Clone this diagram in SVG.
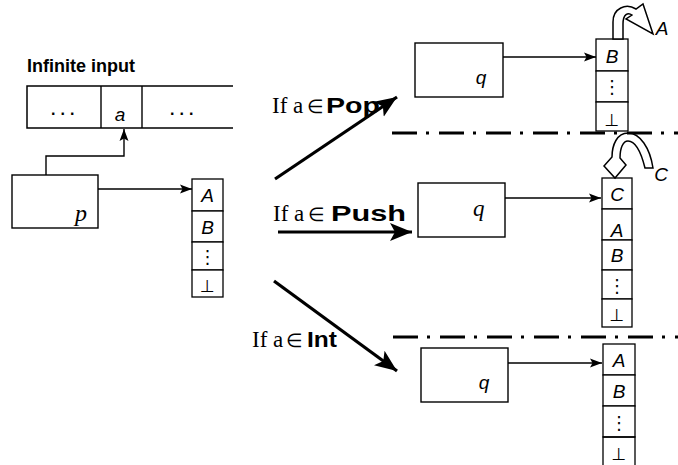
<svg xmlns="http://www.w3.org/2000/svg" width="678" height="465" viewBox="0 0 678 465">
<defs>
<marker id="thin" markerUnits="userSpaceOnUse" markerWidth="14" markerHeight="12" refX="12" refY="6" orient="auto">
<path d="M0,1.5 L12,6 L0,10.5 L2.5,6 Z" fill="#000"/>
</marker>
<marker id="thick" markerUnits="userSpaceOnUse" markerWidth="24" markerHeight="20" refX="22" refY="10" orient="auto">
<path d="M0,1 L22,10 L0,19 L5,10 Z" fill="#000"/>
</marker>
<style>
text{fill:#000}
.box{fill:#fff;stroke:#000;stroke-width:1.4}
.cell{fill:#fff;stroke:#000;stroke-width:1.3}
.thin{fill:none;stroke:#000;stroke-width:1.4;marker-end:url(#thin)}
.thick{fill:none;stroke:#000;stroke-width:3.2;marker-end:url(#thick)}
.dashdot{fill:none;stroke:#000;stroke-width:3;stroke-dasharray:25 9 3 10}
.sym{font-family:"Liberation Sans",Arial,sans-serif;font-style:italic;font-size:19px;text-anchor:middle}
.dots{font-family:"DejaVu Sans",sans-serif;font-size:18px;text-anchor:middle}
.bot{font-family:"DejaVu Sans",sans-serif;font-size:17px;text-anchor:middle}
.ser{font-family:"Liberation Serif","Times New Roman",serif;font-size:23px}
.bold{font-family:"Liberation Sans",Arial,sans-serif;font-weight:bold;font-size:22px}
.elem{font-family:"DejaVu Sans",sans-serif;font-size:19px}
.curve{fill:#fff;stroke:#000;stroke-width:1.5;stroke-linejoin:miter}
.ell{font-family:"Liberation Sans",Arial,sans-serif;font-weight:bold;font-size:16px;letter-spacing:5px}
</style>
</defs>

<g id="title">
<text x="27" y="72" font-family="Liberation Sans, Arial, sans-serif" font-weight="bold" font-size="18">Infinite input</text>
</g>

<g id="tape">
<path d="M233,86 H27 V128 H233" fill="none" stroke="#000" stroke-width="1.5"/>
<line x1="101" y1="86" x2="101" y2="128" stroke="#000" stroke-width="1.4"/>
<line x1="142" y1="86" x2="142" y2="128" stroke="#000" stroke-width="1.4"/>
<text x="51" y="115" class="ell">...</text>
<text x="120" y="121" class="sym" font-size="22">a</text>
<text x="170" y="115" class="ell">...</text>
</g>

<g id="p-state">
<rect class="box" x="12" y="175" width="86" height="53"/>
<text x="75" y="221" font-family="Liberation Serif, serif" font-style="italic" font-size="24">p</text>
</g>

<g id="p-stack">
<rect class="cell" x="192" y="179" width="31" height="32"/>
<rect class="cell" x="192" y="211" width="31" height="31"/>
<rect class="cell" x="192" y="242" width="31" height="28"/>
<rect class="cell" x="192" y="270" width="31" height="27"/>
<text class="sym" x="207.5" y="202">A</text>
<text class="sym" x="207.5" y="234">B</text>
<text class="dots" x="207.5" y="263">⋮</text>
<text class="bot" x="207.5" y="292">⊥</text>
</g>

<g id="q-pop">
<rect class="box" x="415" y="43" width="88" height="54"/>
<text class="sym" x="481" y="84" font-size="22">q</text>
</g>

<g id="stack-pop">
<rect class="cell" x="596" y="39" width="32" height="32"/>
<rect class="cell" x="596" y="71" width="32" height="31"/>
<rect class="cell" x="596" y="102" width="32" height="29"/>
<text class="sym" x="612" y="63">B</text>
<text class="dots" x="612" y="93">⋮</text>
<text class="bot" x="612" y="126">⊥</text>
<path class="curve" d="M613,39 L613,22 C613,8 626,3 636,9 L643,4 L653,34 L626,19 L632,15 C628,12 623,14 623,24 L623,39 Z"/>
<text class="sym" x="662" y="35" font-size="18">A</text>
</g>

<g id="q-push">
<rect class="box" x="418" y="183" width="87" height="54"/>
<text x="473" y="216" font-family="Liberation Serif, serif" font-style="italic" font-size="23">q</text>
</g>

<g id="stack-push">
<rect class="cell" x="602" y="178" width="30" height="31"/>
<rect class="cell" x="602" y="209" width="30" height="31"/>
<rect class="cell" x="602" y="240" width="30" height="30"/>
<rect class="cell" x="602" y="270" width="30" height="29"/>
<rect class="cell" x="602" y="299" width="30" height="28"/>
<text class="sym" x="617" y="201">C</text>
<text class="sym" x="617" y="237">A</text>
<text class="sym" x="617" y="262">B</text>
<text class="dots" x="617" y="292">⋮</text>
<text class="bot" x="617" y="321">⊥</text>
<path class="curve" d="M653,168 C650,148 640,133 628,133 C617,133 612,145 612,157 L604,166 L615,178 L626,165 L620,158 C620,148 623,141 628,141 C636,141 641,152 645,168 Z"/>
<text class="sym" x="661" y="181" font-size="18">C</text>
</g>

<g id="q-int">
<rect class="box" x="421" y="348" width="87" height="54"/>
<text class="sym" x="484" y="389" font-size="22">q</text>
</g>

<g id="stack-int">
<rect class="cell" x="603" y="344" width="32" height="31"/>
<rect class="cell" x="603" y="375" width="32" height="31"/>
<rect class="cell" x="603" y="406" width="32" height="31"/>
<path d="M603,465 V437 H635 V465" fill="none" stroke="#000" stroke-width="1.3"/>
<text class="sym" x="619" y="367">A</text>
<text class="sym" x="619" y="398">B</text>
<text class="dots" x="619" y="429">⋮</text>
<text class="bot" x="619" y="460">⊥</text>
</g>

<g id="separators">
<line class="dashdot" x1="392" y1="133" x2="678" y2="133"/>
<line class="dashdot" x1="393" y1="337" x2="678" y2="337"/>
</g>

<g id="labels">
<text y="113"><tspan class="ser" x="272">If a</tspan><tspan class="elem" x="307">∈</tspan><tspan class="bold" x="326" textLength="54" lengthAdjust="spacingAndGlyphs">Pop</tspan></text>
<text y="221"><tspan class="ser" x="273">If a</tspan><tspan class="elem" x="308">∈</tspan><tspan class="bold" x="331" textLength="75" lengthAdjust="spacingAndGlyphs">Push</tspan></text>
<text y="347"><tspan class="ser" x="252">If a</tspan><tspan class="elem" x="286">∈</tspan><tspan class="bold" x="307" textLength="30" lengthAdjust="spacingAndGlyphs">Int</tspan></text>
</g>

<g id="connectors">
<path class="thin" d="M46,175 V156 H124 V129"/>
<line class="thin" x1="98" y1="189" x2="192" y2="189"/>
<line class="thin" x1="503" y1="57" x2="596" y2="57"/>
<line class="thin" x1="505" y1="198" x2="601" y2="198"/>
<line class="thin" x1="508" y1="363" x2="602" y2="363"/>
<line class="thick" x1="275" y1="179" x2="397" y2="97"/>
<line class="thick" x1="278" y1="232" x2="412" y2="232"/>
<line class="thick" x1="274" y1="281" x2="397" y2="371"/>
</g>
</svg>
